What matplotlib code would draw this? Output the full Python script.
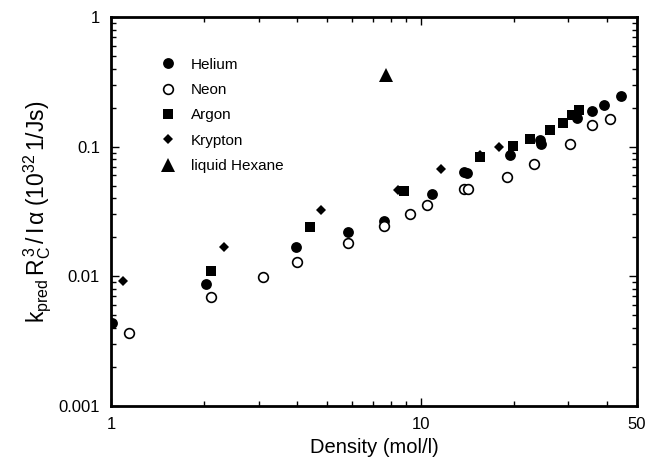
import numpy as np
import matplotlib
matplotlib.use("Agg")
import matplotlib.pyplot as plt
from matplotlib.ticker import FixedLocator, NullFormatter

plt.rcParams['font.family'] = ['Liberation Sans', 'DejaVu Sans']
plt.rcParams['mathtext.fontset'] = 'custom'
plt.rcParams['mathtext.rm'] = 'Liberation Sans'
plt.rcParams['mathtext.it'] = 'Liberation Sans:italic'

# values (density in mol/l, rate in 10^32 1/Js)
he_x = [1.01, 2.03, 3.95, 5.81, 7.61, 10.9, 13.8, 14.1, 19.5, 24.3, 24.5, 32.0, 35.7, 39.0, 44.3]
he_y = [0.00437, 0.00869, 0.0169, 0.0219, 0.0269, 0.0434, 0.064, 0.0625, 0.0863, 0.112, 0.105,
        0.166, 0.1875, 0.211, 0.247]

ne_x = [1.14, 2.10, 3.09, 3.99, 5.81, 7.6, 9.26, 10.5, 13.8, 14.2, 19.05, 23.2, 30.4, 35.7, 40.8]
ne_y = [0.00368, 0.00694, 0.00984, 0.0128, 0.0180, 0.0243, 0.0304, 0.0355, 0.0469, 0.0472,
        0.0587, 0.074, 0.105, 0.148, 0.164]

ar_x = [2.10, 4.38, 8.81, 15.6, 19.9, 22.6, 26.1, 28.8, 30.9, 32.6]
ar_y = [0.0109, 0.0242, 0.0453, 0.0828, 0.101, 0.114, 0.1345, 0.153, 0.175, 0.193]

kr_x = [1.09, 2.32, 4.75, 8.45, 11.6, 15.5, 17.9]
kr_y = [0.00922, 0.0169, 0.0325, 0.0464, 0.0673, 0.087, 0.0995]

hex_x = [7.75]
hex_y = [0.357]

fig = plt.figure(figsize=(6.47, 4.59), dpi=100)
ax = fig.add_axes([111 / 647, 1 - 406 / 459, 526 / 647, 389 / 459])

ax.plot(he_x, he_y, 'o', color='black', ms=7.8, mew=0, label='Helium', zorder=3)
ax.plot(ne_x, ne_y, 'o', mfc='white', mec='black', ms=7, mew=1.2, label='Neon', zorder=4)
ax.plot(ar_x, ar_y, 's', color='black', ms=6.5, mew=0, label='Argon', zorder=3)
ax.plot(kr_x, kr_y, 'D', color='black', ms=5, mew=0, label='Krypton', zorder=3)
ax.plot(hex_x, hex_y, '^', color='black', ms=9.5, mew=0, label='liquid Hexane', zorder=3)

ax.set_xscale('log')
ax.set_yscale('log')
ax.set_xlim(1, 50)
ax.set_ylim(0.001, 1)

ax.xaxis.set_major_locator(FixedLocator([1, 10, 50]))
ax.set_xticklabels(['1', '10', '50'])
ax.xaxis.set_minor_locator(FixedLocator([2, 3, 4, 5, 6, 7, 8, 9, 20, 30, 40]))
ax.xaxis.set_minor_formatter(NullFormatter())

ax.yaxis.set_major_locator(FixedLocator([0.001, 0.01, 0.1, 1]))
ax.set_yticklabels(['0.001', '0.01', '0.1', '1'])
yminor = [m * 10.0 ** e for e in (-3, -2, -1) for m in range(2, 10)]
ax.yaxis.set_minor_locator(FixedLocator(yminor))
ax.yaxis.set_minor_formatter(NullFormatter())

ax.tick_params(which='both', direction='in', top=True, right=True, width=1, colors='black')
ax.tick_params(which='major', length=6, labelsize=12, pad=8)
ax.tick_params(which='minor', length=3.5)

for s in ax.spines.values():
    s.set_linewidth(2)

ax.set_xlabel('Density (mol/l)', fontsize=14.5, labelpad=4)
ax.set_ylabel(r'$\mathregular{k_{pred}\,R_C^{\,3}\,/\,I\,\alpha\;(10^{32}\,1/Js)}$', fontsize=16.5, labelpad=4)

ax.legend(loc='upper left', bbox_to_anchor=(0.096, 0.895), frameon=False, fontsize=11,
          numpoints=1, handlelength=0.8, handletextpad=1.1, labelspacing=0.74,
          borderpad=0, borderaxespad=0)

fig.savefig('out.png', dpi=100)
